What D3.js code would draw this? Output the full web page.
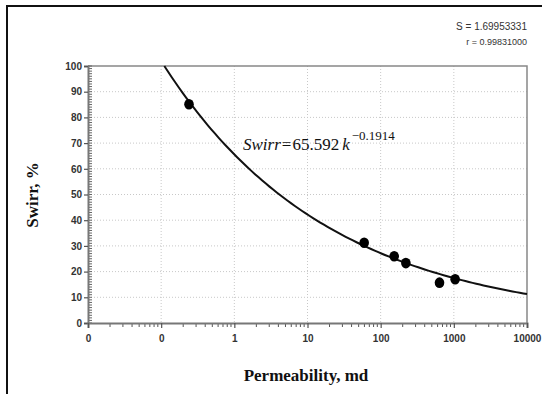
<!DOCTYPE html>
<html>
<head>
<meta charset="utf-8">
<script src="https://cdn.jsdelivr.net/npm/d3@7"></script>
<style>
  body { margin: 0; background: #fff; }
  svg { display: block; }
</style>
</head>
<body>
<div id="chart"></div>
<script>
// measured core samples: permeability (md) vs irreducible water saturation (%)
var permeability = [0.24, 59.5, 153, 221, 637, 1042];
var swirr = [85.1, 31.2, 26.0, 23.3, 15.7, 17.0];

// power-law fit shown on the chart
var fitA = 65.592;
var fitB = -0.1914;
var fitStats = ["S = 1.69953331", "r = 0.99831000"];

var xTicks = [0.01, 0.1, 1, 10, 100, 1000, 10000];
var xTickLabels = ["0", "0", "1", "10", "100", "1000", "10000"];
var yTicks = [0, 10, 20, 30, 40, 50, 60, 70, 80, 90, 100];

var width = 542, height = 394;
var plotLeft = 88, plotRight = 527, plotTop = 66, plotBottom = 323;

var svg = d3.select("#chart")
    .append("svg")
    .attr("width", width)
    .attr("height", height);

// outer frame (left + top only, the rest is cropped)
svg.append("line")
    .attr("x1", 7).attr("x2", 7).attr("y1", 5).attr("y2", height)
    .style("stroke", "#111").style("stroke-width", 2);
svg.append("line")
    .attr("x1", 6).attr("x2", width).attr("y1", 6).attr("y2", 6)
    .style("stroke", "#111").style("stroke-width", 2);

var x = d3.scaleLog().domain([0.01, 10000]).range([plotLeft, plotRight]);
var y = d3.scaleLinear().domain([0, 100]).range([plotBottom, plotTop]);

// grid
svg.append("g").selectAll("line")
    .data(yTicks.slice(1, -1))
    .enter().append("line")
    .attr("x1", plotLeft).attr("x2", plotRight)
    .attr("y1", function(d){ return y(d); })
    .attr("y2", function(d){ return y(d); })
    .style("stroke", "#c8c8c8")
    .style("stroke-dasharray", "1,2");
svg.append("g").selectAll("line")
    .data(xTicks.slice(1, -1))
    .enter().append("line")
    .attr("x1", function(d){ return x(d); })
    .attr("x2", function(d){ return x(d); })
    .attr("y1", plotTop).attr("y2", plotBottom)
    .style("stroke", "#c8c8c8")
    .style("stroke-dasharray", "1,2");

// plot frame top / right
svg.append("path")
    .attr("d", "M" + plotLeft + "," + plotTop + "H" + plotRight + "V" + plotBottom)
    .style("fill", "none")
    .style("stroke", "#888")
    .style("stroke-width", 1.5);

// minor ticks
var yMinor = d3.range(0, 101, 1);
svg.append("g").selectAll("line")
    .data(yMinor)
    .enter().append("line")
    .attr("x1", plotLeft).attr("x2", plotLeft + 4)
    .attr("y1", function(d){ return y(d); })
    .attr("y2", function(d){ return y(d); })
    .style("stroke", "#666").style("stroke-width", 1);

var xMinor = [];
xTicks.slice(0, -1).forEach(function(t){
    for (var m = 2; m <= 9; m++) xMinor.push(t * m);
});
svg.append("g").selectAll("line")
    .data(xMinor)
    .enter().append("line")
    .attr("x1", function(d){ return x(d); })
    .attr("x2", function(d){ return x(d); })
    .attr("y1", plotBottom).attr("y2", plotBottom + 4)
    .style("stroke", "#555").style("stroke-width", 1);

// axes
var yAxis = d3.axisLeft(y).tickValues(yTicks).tickSize(4).tickPadding(2);
var gy = svg.append("g")
    .attr("transform", "translate(" + plotLeft + ",0)")
    .call(yAxis);

var xAxis = d3.axisBottom(x).tickValues(xTicks).tickSize(5).tickPadding(7)
    .tickFormat(function(d, i){ return xTickLabels[i]; });
var gx = svg.append("g")
    .attr("transform", "translate(0," + plotBottom + ")")
    .call(xAxis);

[gx, gy].forEach(function(g){
    g.select(".domain").style("stroke", "#777").style("stroke-width", 2);
    g.selectAll(".tick line").style("stroke", "#555").style("stroke-width", 1.2);
    g.selectAll("text")
        .style("font-family", "Arial, 'Liberation Sans', sans-serif")
        .style("font-weight", "bold")
        .style("font-size", "10px")
        .style("fill", "#333");
});

// fit curve
var kStart = Math.pow(100 / fitA, 1 / fitB);
var curveK = d3.range(0, 101).map(function(i){
    return kStart * Math.pow(10000 / kStart, i / 100);
});
var line = d3.line()
    .x(function(d){ return x(d); })
    .y(function(d){ return y(fitA * Math.pow(d, fitB)); });
svg.append("path")
    .datum(curveK)
    .attr("d", line)
    .style("fill", "none")
    .style("stroke", "#111")
    .style("stroke-width", 2);

// samples
svg.append("g").selectAll("ellipse")
    .data(permeability)
    .enter().append("ellipse")
    .attr("cx", function(d){ return x(d); })
    .attr("cy", function(d, i){ return y(swirr[i]); })
    .attr("rx", 4.8)
    .attr("ry", 5.3)
    .style("fill", "#000");

// equation
var eq = svg.append("text")
    .attr("x", 243)
    .attr("y", 150)
    .style("font-family", "'Liberation Serif', 'Times New Roman', serif")
    .style("font-size", "17px")
    .style("fill", "#111");
eq.append("tspan").style("font-style", "italic").text("Swirr");
eq.append("tspan").attr("dx", 1).text("=");
eq.append("tspan").attr("dx", 1).text(fitA);
eq.append("tspan").attr("dx", 3).style("font-style", "italic").text("k");
eq.append("tspan")
    .attr("dy", -10)
    .attr("dx", 2)
    .style("font-size", "13px")
    .text("\u2212" + Math.abs(fitB));

// fit statistics
svg.selectAll(".stat")
    .data(fitStats)
    .enter().append("text")
    .attr("class", "stat")
    .attr("x", 527)
    .attr("y", function(d, i){ return 30 + i * 15; })
    .attr("text-anchor", "end")
    .style("font-family", "Arial, 'Liberation Sans', sans-serif")
    .style("font-size", function(d, i){ return i == 0 ? "10px" : "9px"; })
    .style("fill", "#333")
    .text(function(d){ return d; });

// axis titles
svg.append("text")
    .attr("x", 306)
    .attr("y", 381)
    .attr("text-anchor", "middle")
    .style("font-family", "'Liberation Serif', 'Times New Roman', serif")
    .style("font-weight", "bold")
    .style("font-size", "17px")
    .style("fill", "#111")
    .text("Permeability, md");

svg.append("text")
    .attr("transform", "translate(38,195) rotate(-90)")
    .attr("text-anchor", "middle")
    .style("font-family", "'Liberation Serif', 'Times New Roman', serif")
    .style("font-weight", "bold")
    .style("font-size", "17px")
    .style("fill", "#111")
    .text("Swirr, %");
</script>
</body>
</html>
